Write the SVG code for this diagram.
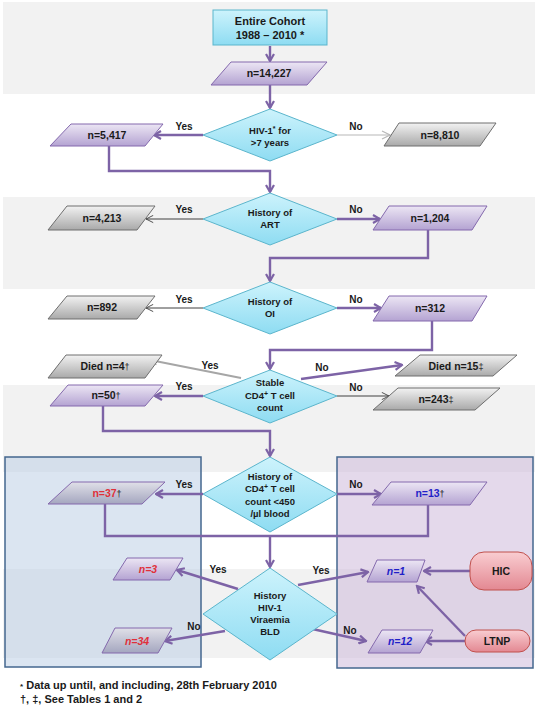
<svg xmlns="http://www.w3.org/2000/svg" width="537" height="708" viewBox="0 0 537 708">
<defs>
<linearGradient id="gP" x1="0" y1="0" x2="0" y2="1"><stop offset="0" stop-color="#ece6f4"/><stop offset="1" stop-color="#b4a3d2"/></linearGradient>
<linearGradient id="gG" x1="0" y1="0" x2="0" y2="1"><stop offset="0" stop-color="#f2f2f2"/><stop offset="1" stop-color="#a9a9a9"/></linearGradient>
<linearGradient id="gB" x1="0" y1="0" x2="0" y2="1"><stop offset="0" stop-color="#e0e0e8"/><stop offset="1" stop-color="#a4a6bf"/></linearGradient>
<linearGradient id="gC" x1="0" y1="0" x2="0" y2="1"><stop offset="0" stop-color="#cdf3fc"/><stop offset="1" stop-color="#8edcf2"/></linearGradient>
<linearGradient id="gR" x1="0" y1="0" x2="0" y2="1"><stop offset="0" stop-color="#f9cdd1"/><stop offset="1" stop-color="#e38892"/></linearGradient>
<marker id="ap" viewBox="0 0 10 10" refX="8.5" refY="5" markerWidth="10" markerHeight="10" markerUnits="userSpaceOnUse" orient="auto"><path d="M1.5,1 L8.5,5 L1.5,9" fill="none" stroke="#7d63a6" stroke-width="2.2"/></marker>
<marker id="ag" viewBox="0 0 10 10" refX="9" refY="5" markerWidth="9" markerHeight="9" markerUnits="userSpaceOnUse" orient="auto"><path d="M1,1 L9,5 L1,9" fill="none" stroke="#404040" stroke-width="1"/></marker>
<marker id="al" viewBox="0 0 10 10" refX="9" refY="5" markerWidth="9" markerHeight="9" markerUnits="userSpaceOnUse" orient="auto"><path d="M1,1 L9,5 L1,9" fill="none" stroke="#a0a0a0" stroke-width="1.2"/></marker>
<marker id="aw" viewBox="0 0 10 10" refX="9" refY="5" markerWidth="10" markerHeight="10" markerUnits="userSpaceOnUse" orient="auto"><path d="M1,1 L9,5 L1,9" fill="none" stroke="#b8b8b8" stroke-width="1.2"/></marker>
</defs>
<style>
text{font-family:"Liberation Sans",Arial,sans-serif;font-weight:bold;fill:#1a1a1a;text-anchor:middle}
.n{font-size:10.5px}
.d{font-size:9.5px}
.l{font-size:10px}
.f{font-size:11px;text-anchor:start}
.dg{font-size:9px;font-weight:normal}
.pp{fill:url(#gP);stroke:#8469ad;stroke-width:1}
.pg{fill:url(#gG);stroke:#6e6e6e;stroke-width:1}
.pb{fill:url(#gB);stroke:#8469ad;stroke-width:1}
.dm{fill:url(#gC);stroke:#5bb5cc;stroke-width:1}
.rr{fill:url(#gR);stroke:#c0504d;stroke-width:1}
.cp{fill:none;stroke:#7d63a6;stroke-width:2.4}
.cg{fill:none;stroke:#404040;stroke-width:1}
.red{fill:#e0303a}
.blu{fill:#1f1fc8}
.it{font-style:italic}
</style>
<g id="background">
<rect x="3" y="2" width="532" height="92" fill="#f2f2f2"/>
<rect x="3" y="197" width="532" height="92" fill="#f2f2f2"/>
<rect x="3" y="385" width="532" height="87" fill="#f2f2f2"/>
<rect x="3" y="569" width="532" height="89" fill="#f2f2f2"/>
</g>
<g id="groups">
<rect x="5" y="457" width="196" height="210" fill="#b8cce4" fill-opacity="0.5" stroke="#44678f" stroke-width="1.5"/>
<rect x="337" y="457" width="196" height="211" fill="#c9b3d8" fill-opacity="0.5" stroke="#44678f" stroke-width="1.5"/>
</g>
<g id="connectors">
<line class="cp" x1="270" y1="46" x2="270" y2="61" marker-end="url(#ap)"/>
<line class="cp" x1="270" y1="85" x2="270" y2="108" marker-end="url(#ap)"/>
<line class="cp" x1="203" y1="135" x2="154" y2="135" marker-end="url(#ap)"/>
<line fill="none" stroke="#b8b8b8" stroke-width="1.2" x1="337" y1="135" x2="390" y2="135" marker-end="url(#aw)"/>
<path class="cp" d="M109,146 V171 H270 V192" marker-end="url(#ap)"/>
<line class="cg" x1="203" y1="219" x2="146" y2="219" marker-end="url(#ag)"/>
<line class="cp" x1="337" y1="219" x2="380" y2="219" marker-end="url(#ap)"/>
<path class="cp" d="M428,230 V258 H270 V281" marker-end="url(#ap)"/>
<line class="cg" x1="203" y1="308" x2="146" y2="308" marker-end="url(#ag)"/>
<line class="cp" x1="337" y1="308" x2="381" y2="308" marker-end="url(#ap)"/>
<path class="cp" d="M432,321 V350 H270 V369" marker-end="url(#ap)"/>
<line fill="none" stroke="#a6a6a6" stroke-width="2" x1="241" y1="378" x2="150" y2="360" marker-end="url(#al)"/>
<line class="cp" x1="301" y1="379" x2="402" y2="365" marker-end="url(#ap)"/>
<line class="cp" x1="203" y1="396" x2="155" y2="396" marker-end="url(#ap)"/>
<line class="cg" x1="337" y1="396" x2="389" y2="396" marker-end="url(#ag)"/>
<path class="cp" d="M103,406 V431 H270 V456" marker-end="url(#ap)"/>
<line class="cp" x1="203" y1="494" x2="156" y2="494" marker-end="url(#ap)"/>
<line class="cp" x1="337" y1="494" x2="381" y2="494" marker-end="url(#ap)"/>
<path class="cp" d="M105,504 V536 H428 V505"/>
<line class="cp" x1="270" y1="536" x2="270" y2="567" marker-end="url(#ap)"/>
<line class="cp" x1="238" y1="589" x2="177" y2="570" marker-end="url(#ap)"/>
<line class="cp" x1="298" y1="585" x2="368" y2="572" marker-end="url(#ap)"/>
<line class="cp" x1="225" y1="631" x2="165" y2="641" marker-end="url(#ap)"/>
<line class="cp" x1="308" y1="628" x2="366" y2="641" marker-end="url(#ap)"/>
<line class="cp" x1="470" y1="571" x2="424" y2="571" marker-end="url(#ap)"/>
<line class="cp" x1="465" y1="636" x2="417" y2="586" marker-end="url(#ap)"/>
<line class="cp" stroke-width="4" x1="465" y1="641" x2="425" y2="641" marker-end="url(#ap)"/>
</g>
<g id="labels">
<text class="l" x="184" y="130">Yes</text><text class="l" x="356" y="130">No</text>
<text class="l" x="184" y="213">Yes</text><text class="l" x="356" y="213">No</text>
<text class="l" x="184" y="303">Yes</text><text class="l" x="356" y="303">No</text>
<text class="l" x="210" y="369">Yes</text><text class="l" x="322" y="371">No</text>
<text class="l" x="184" y="390">Yes</text><text class="l" x="356" y="391">No</text>
<text class="l" x="184" y="488">Yes</text><text class="l" x="356" y="488">No</text>
<text class="l" x="218" y="573">Yes</text><text class="l" x="321" y="574">Yes</text>
<text class="l" x="194" y="630">No</text><text class="l" x="350" y="634">No</text>
</g>
<g id="n-cohort">
<rect x="213" y="10" width="114" height="35" fill="url(#gC)" stroke="#5bb5cc" stroke-width="1"/>
<text style="font-size:11px" x="270" y="25">Entire Cohort</text>
<text style="font-size:11px" x="270" y="39">1988 – 2010 *</text>
</g>
<g id="n-14227"><polygon class="pp" points="231,62 327,62 307,85 211,85"/><text class="n" x="269" y="77">n=14,227</text></g>
<g id="d-hiv7"><polygon class="dm" points="270,109 337,135 270,161 203,135"/>
<text class="d" x="270" y="134">HIV-1<tspan font-size="7" dy="-3">*</tspan><tspan dy="3"> for</tspan></text>
<text class="d" x="270" y="146">&gt;7 years</text></g>
<g id="n-5417"><polygon class="pp" points="71,124 163,124 145,146 50,146"/><text class="n" x="107" y="139">n=5,417</text></g>
<g id="n-8810"><polygon class="pg" points="399,123 496,123 480,146 384,146"/><text class="n" x="440" y="139">n=8,810</text></g>
<g id="d-art"><polygon class="dm" points="270,193 337,219 270,245 203,219"/>
<text class="d" x="270" y="216">History of</text><text class="d" x="270" y="228">ART</text></g>
<g id="n-4213"><polygon class="pg" points="67,206 155,206 137,230 48,230"/><text class="n" x="102" y="222">n=4,213</text></g>
<g id="n-1204"><polygon class="pp" points="389,206 487,206 472,230 373,230"/><text class="n" x="430" y="222">n=1,204</text></g>
<g id="d-oi"><polygon class="dm" points="270,282 337,308 270,334 203,308"/>
<text class="d" x="270" y="305">History of</text><text class="d" x="270" y="317">OI</text></g>
<g id="n-892"><polygon class="pg" points="67,296 155,296 137,319 48,319"/><text class="n" x="102" y="311">n=892</text></g>
<g id="n-312"><polygon class="pp" points="389,296 487,296 472,321 373,321"/><text class="n" x="430" y="312">n=312</text></g>
<g id="d-stable"><polygon class="dm" points="270,370 337,396 270,423 203,396"/>
<text class="d" x="270" y="386">Stable</text>
<text class="d" x="270" y="399">CD4<tspan font-size="7" dy="-3">+</tspan><tspan dy="3"> T cell</tspan></text>
<text class="d" x="270" y="411">count</text></g>
<g id="n-died4"><polygon class="pg" points="66,355 162,355 145,378 48,378"/><text class="n" x="105" y="370">Died n=4<tspan class="dg">†</tspan></text></g>
<g id="n-died15"><polygon class="pg" points="420,355 517,355 493,376 395,376"/><text class="n" x="456" y="370">Died n=15<tspan class="dg">‡</tspan></text></g>
<g id="n-50"><polygon class="pp" points="68,385 163,385 145,406 50,406"/><text class="n" x="106" y="399">n=50<tspan class="dg">†</tspan></text></g>
<g id="n-243"><polygon class="pg" points="398,388 500,388 475,410 373,410"/><text class="n" x="436" y="403">n=243<tspan class="dg">‡</tspan></text></g>
<g id="d-cd4"><polygon class="dm" points="270,457 337,494 270,532 203,494"/>
<text class="d" x="270" y="480">History of</text>
<text class="d" x="270" y="492">CD4<tspan font-size="7" dy="-3">+</tspan><tspan dy="3"> T cell</tspan></text>
<text class="d" x="270" y="505">count &lt;450</text>
<text class="d" x="270" y="517">/µl blood</text></g>
<g id="n-37"><polygon class="pb" points="72,482 165,482 142,504 48,504"/><text class="n" x="107" y="497"><tspan class="red">n=37</tspan><tspan class="dg">†</tspan></text></g>
<g id="n-13"><polygon class="pp" points="391,482 487,482 470,505 372,505"/><text class="n" x="430" y="497"><tspan class="blu">n=13</tspan><tspan class="dg">†</tspan></text></g>
<g id="d-viraemia"><polygon class="dm" points="270,568 337,614 270,660 203,614"/>
<text class="d" x="270" y="599">History</text><text class="d" x="270" y="611">HIV-1</text>
<text class="d" x="270" y="623">Viraemia</text><text class="d" x="270" y="635">BLD</text></g>
<g id="n-3"><polygon class="pp" points="127,558 183,558 170,580 113,580"/><text class="n it red" x="148" y="573">n=3</text></g>
<g id="n-34"><polygon class="pb" points="115,628 172,628 158,653 102,653"/><text class="n it red" x="137" y="645">n=34</text></g>
<g id="n-1"><polygon class="pp" points="377,560 425,560 417,582 367,582"/><text class="n it blu" x="396" y="575">n=1</text></g>
<g id="n-12"><polygon class="pp" points="382,630 433,630 420,653 368,653"/><text class="n it blu" x="400" y="645">n=12</text></g>
<g id="n-hic"><rect class="rr" x="470" y="552" width="62" height="38" rx="14"/><text class="n" x="501" y="575">HIC</text></g>
<g id="n-ltnp"><rect class="rr" x="465" y="630" width="65" height="22" rx="11"/><text class="n" x="497" y="645">LTNP</text></g>
<g id="footer">
<text class="f" x="20" y="689"><tspan font-size="8">*</tspan> Data up until, and including, 28th February 2010</text>
<text class="f" x="20" y="703">†, ‡, See Tables 1 and 2</text>
</g>
</svg>
